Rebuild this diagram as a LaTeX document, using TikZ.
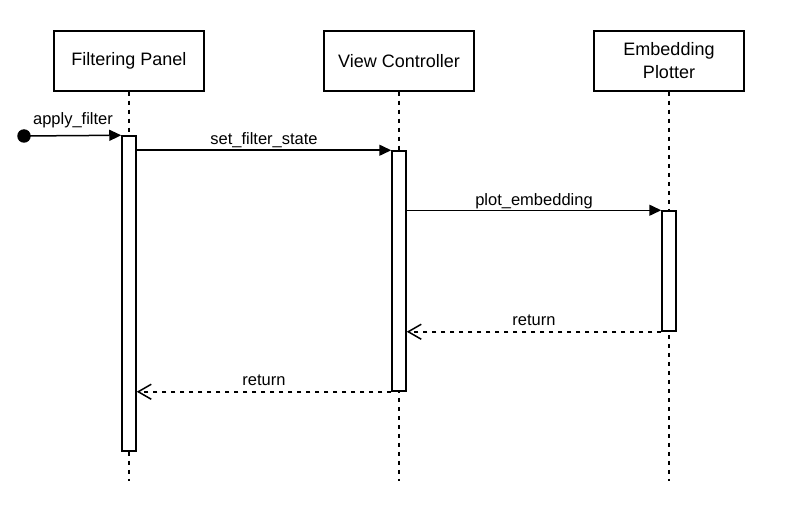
\documentclass[tikz,border=0pt]{standalone}
\usepackage{fontspec}
\setmainfont{Liberation Sans}
\usetikzlibrary{arrows.meta}
\begin{document}
\begin{tikzpicture}[x=1pt,y=-1pt,
  head/.style={draw,line width=1.5pt,fill=white,minimum width=150pt,minimum height=60pt,inner sep=0pt,align=center,font=\fontsize{18}{23}\selectfont},
  life/.style={line width=1.5pt,dash pattern=on 4.5pt off 4.5pt},
  bar/.style={draw,line width=1.5pt,fill=white,minimum width=14pt,inner sep=0pt},
  msg/.style={line width=1.5pt,-{Triangle[length=12pt,width=11pt]}},
  ret/.style={line width=1.5pt,dash pattern=on 4.5pt off 4.5pt,-{Straight Barb[length=13pt,width=15pt,line width=1.5pt]}},
  lbl/.style={font=\fontsize{16.5}{20}\selectfont,anchor=base,inner sep=0pt}]
\useasboundingbox (0,0) rectangle (803,508);
% headers
\node[head] (fp) at (129,61) {Filtering Panel};
\node[head] (vc) at (399,61) {View Controller};
\node[head] (ep) at (669,61) {Embedding\\Plotter};
% lifeline ends
\coordinate (fpend) at (129,481);
\coordinate (vcend) at (399,481);
\coordinate (epend) at (669,481);
\draw[life] (fp.south) -- (fpend);
\draw[life] (vc.south) -- (vcend);
\draw[life] (ep.south) -- (epend);
% activation bars
\node[bar,minimum height=315pt] (fpbar) at (129,293.5) {};
\node[bar,minimum height=240pt] (vcbar) at (399,271) {};
\node[bar,minimum height=120pt] (epbar) at (669,271) {};
% start dot
\node[circle,fill=black,minimum size=13.5pt,inner sep=0pt] (start) at (24,136) {};
% messages
\draw[msg] (start.center) -- (fpbar.north west);
\node[lbl] (l1) at (73,125) {apply\_filter};
\draw[msg] (fpbar.east |- vcbar.north) -- (vcbar.north west);
\node[lbl] (l2) at (264,145) {set\_filter\_state};
\draw[msg] (vcbar.east |- epbar.north) -- (epbar.north west);
\node[lbl] (l3) at (534,205) {plot\_embedding};
\draw[ret] (epbar.south west) -- (vcbar.east |- epbar.south);
\node[lbl] (l4) at (534,325) {return};
\draw[ret] (vcbar.south west) -- (fpbar.east |- vcbar.south);
\node[lbl] (l5) at (264,385) {return};
\end{tikzpicture}
\end{document}
